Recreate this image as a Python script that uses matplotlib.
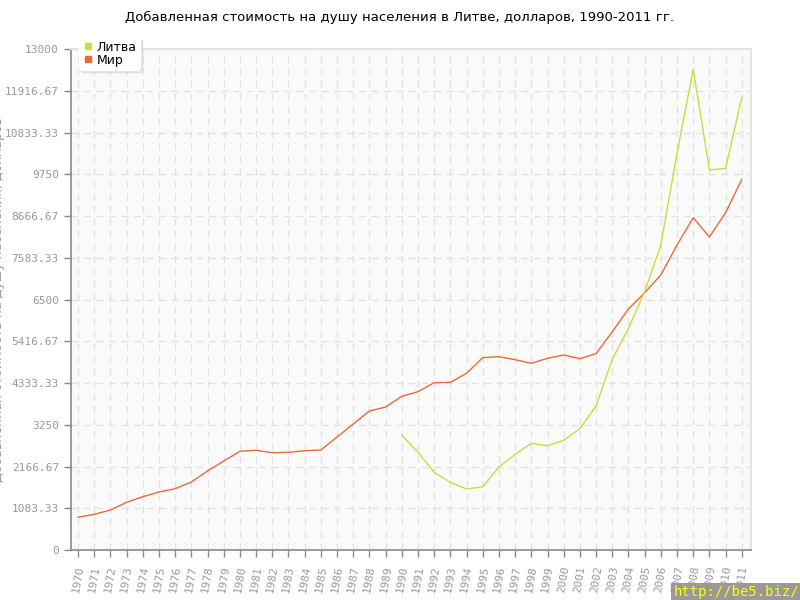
import matplotlib
matplotlib.use('Agg')
from matplotlib import pyplot as plt
from matplotlib.lines import Line2D

years = list(range(1970, 2012))
lt_years = list(range(1990, 2012))

# World (Мир), USD per capita
world = [849, 926, 1038, 1238, 1383, 1505, 1591, 1765, 2050, 2310,
         2561, 2587, 2525, 2535, 2577, 2595, 2932, 3270, 3607, 3711,
         3988, 4109, 4342, 4351, 4585, 4991, 5017, 4939, 4845, 4974,
         5060, 4965, 5094, 5665, 6254, 6677, 7136, 7915, 8624, 8122,
         8753, 9619]

# Lithuania (Литва), 1990-2011
lithuania = [2976, 2535, 2016, 1757, 1583, 1643, 2154, 2483, 2769, 2707,
             2847, 3148, 3737, 4948, 5753, 6703, 7915, 10300, 12474, 9861,
             9905, 11748]

yticks = [0, 1083.33, 2166.67, 3250, 4333.33, 5416.67, 6500, 7583.33,
          8666.67, 9750, 10833.33, 11916.67, 13000]
ytick_labels = ['0', '1083.33', '2166.67', '3250', '4333.33', '5416.67', '6500',
                '7583.33', '8666.67', '9750', '10833.33', '11916.67', '13000']

c_lt = '#c4e03c'
c_world = '#e86a3c'
grey = '#888888'

fig = plt.figure(figsize=(8, 6), dpi=100)
ax = fig.add_axes([0.0884, 0.0833, 0.85, 0.835])
ax.set_facecolor('#fafafa')

ax.plot(years, world, color=c_world, lw=1)
ax.plot(lt_years, lithuania, color=c_lt, lw=1)

ax.set_xlim(1969.55, 2011.55)
ax.set_ylim(0, 13000)
ax.set_yticks(yticks)
ax.set_yticklabels(ytick_labels, family='DejaVu Sans Mono', fontsize=8, color='#999999')
ax.set_xticks(years)
ax.set_xticklabels([str(y) for y in years], rotation=80, family='DejaVu Sans Mono',
                   fontsize=8, color='#999999', ha='center', va='top')

ax.grid(True, color='#e2e2e2', linestyle=(0, (5, 4)), lw=1)
ax.set_axisbelow(True)
ax.tick_params(axis='both', color=grey, length=5, width=1)
ax.tick_params(axis='x', pad=6)
for s in ['left', 'bottom']:
    ax.spines[s].set_color(grey)
    ax.spines[s].set_linewidth(1.2)
for s in ['top', 'right']:
    ax.spines[s].set_color('#e4e4e4')
    ax.spines[s].set_linewidth(1.5)

handles = [Line2D([], [], marker='s', ls='none', color=c_lt, markersize=5),
           Line2D([], [], marker='s', ls='none', color=c_world, markersize=5)]
leg = ax.legend(handles, ['Литва', 'Мир'], loc='upper left',
                bbox_to_anchor=(0.008, 1.028), fontsize=9, frameon=True,
                fancybox=True, shadow={'color': '#d8d8d8', 'alpha': 0.7},
                handletextpad=0.2, borderpad=0.25, labelspacing=0.0,
                handlelength=1.0, borderaxespad=0.2)
leg.get_frame().set_edgecolor('white')
leg.get_frame().set_facecolor('white')
leg.set_zorder(5)

fig.suptitle('Добавленная стоимость на душу населения в Литве, долларов, 1990-2011 гг.',
             y=0.982, fontsize=9.5)
fig.text(-0.002, 0.5, 'Добавленная стоимость на душу населения, долларов',
         rotation=90, ha='center', va='center', fontsize=9, color='#999999')

fig.text(0.999, 0.001, 'http://be5.biz/', ha='right', va='bottom',
         fontsize=10, color='#ffff00', family='DejaVu Sans Mono',
         bbox=dict(boxstyle='square,pad=0.15', fc='#999999', ec='none'))

fig.savefig('out.png', dpi=100)
